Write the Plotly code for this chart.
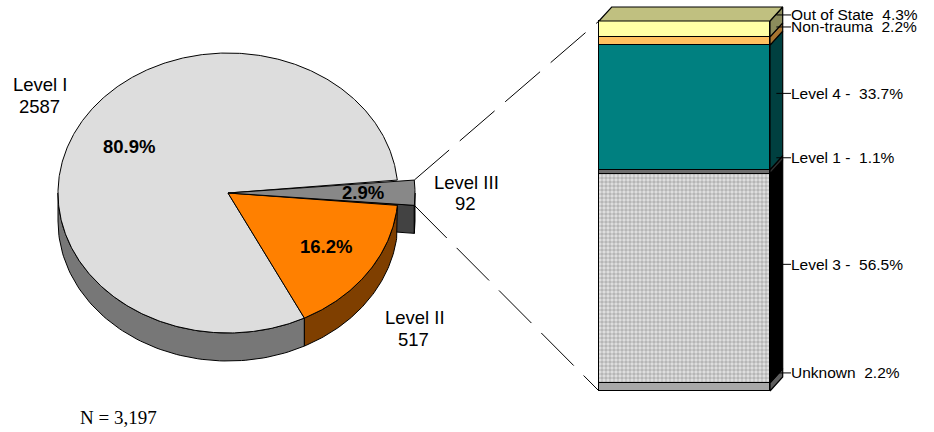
import numpy as np
import plotly.graph_objects as go

# ---- data -------------------------------------------------------------
pie_labels = ["Level I", "Level II", "Level III"]
pie_counts = [2587, 517, 92]
total_n = 3197

# breakdown of the Level III group, bottom to top of the stacked bar
bar_labels = ["Unknown", "Level 3", "Level 1", "Level 4", "Non-trauma", "Out of State"]
bar_pcts = [2.2, 56.5, 1.1, 33.7, 2.2, 4.3]
bar_seps = ["  ", " -  ", " -  ", " -  ", "  ", "  "]

# ---- styling ----------------------------------------------------------
W, H = 934, 432
SANS = "Liberation Sans, Arial, sans-serif"
SERIF = "Liberation Serif, Times New Roman, serif"

pie_top = ["#DDDDDD", "#FF8000", "#888888"]
pie_side = ["#777777", "#7F3F00", "#424242"]
pie_explode = [0, 0, 17]

bar_front = ["#A8A8A8", "#C8C8C8", "#6E6E6E", "#008080", "#FFC060", "#FFFFA6"]
bar_side = ["#5E5E5E", "#000000", "#303030", "#004040", "#A87430", "#8C8C5C"]
bar_topface = "#C0C080"

# pie geometry in page pixels (tilted disc)
CX, CY, RX, RY, DEPTH = 228.0, 193.0, 170.0, 140.0, 28.0
START_DEG = 5.3

# stacked bar axis geometry
BAR_LEFT_PX, BAR_RIGHT_PX = 599.0, 770.0
BAR_BOTTOM_PX, BAR_TOP_PX = 391.0, 21.0
px_per_x = BAR_RIGHT_PX - BAR_LEFT_PX          # one bar width
px_per_pct = (BAR_BOTTOM_PX - BAR_TOP_PX) / 100.0
x2_range = [-0.5 - BAR_LEFT_PX / px_per_x, -0.5 + (W - BAR_LEFT_PX) / px_per_x]
y2_range = [-(H - BAR_BOTTOM_PX) / px_per_pct, BAR_BOTTOM_PX / px_per_pct]
DX = 12.7 / px_per_x       # depth of the 3-D bar, horizontal
DY = 14.0 / px_per_pct     # depth of the 3-D bar, vertical


def bar_x_to_px(x):
    return BAR_LEFT_PX + (x + 0.5) * px_per_x


def bar_y_to_px(v):
    return BAR_BOTTOM_PX - v * px_per_pct


def rim(t_deg, shift=0.0, drop=0.0):
    t = np.radians(t_deg)
    return CX + shift + RX * np.cos(t), CY - RY * np.sin(t) + drop


fig = go.Figure()
edge = dict(color="black", width=1)

# ---- pie -------------------------------------------------------------
total = float(sum(pie_counts))
spans = [360.0 * c / total for c in pie_counts]
bounds = []
a = START_DEG
for s in spans:
    bounds.append((a, a + s))
    a += s


def poly(xs, ys, fill):
    fig.add_trace(go.Scatter(
        x=list(xs) + [xs[0]], y=list(ys) + [ys[0]], mode="lines", fill="toself",
        fillcolor=fill, line=edge, hoverinfo="skip", showlegend=False))


def side_wall(i):
    a0, a1 = bounds[i]
    lo, hi = max(a0, 180.0), min(a1, 360.0)
    if lo >= hi:
        return
    ts = np.linspace(lo, hi, 80)
    tx, ty = rim(ts, pie_explode[i])
    bx, by = rim(ts[::-1], pie_explode[i], DEPTH)
    poly(np.concatenate([tx, bx]), np.concatenate([ty, by]), pie_side[i])


def top_face(i):
    a0, a1 = bounds[i]
    ts = np.linspace(a0, a1, max(8, int((a1 - a0) * 2)))
    ax_, ay_ = rim(ts, pie_explode[i])
    xs = np.concatenate([[CX], ax_])
    ys = np.concatenate([[CY], ay_])
    poly(xs, ys, pie_top[i])


# cut face of the pulled-out slice, seen through the gap
i3 = 2
a0 = bounds[i3][0]
rx, ry = rim(a0, pie_explode[i3])
tipx = CX + pie_explode[i3]
poly([tipx, rx, rx, tipx], [CY, ry, ry + DEPTH, CY + DEPTH], pie_side[i3])
side_wall(2)
side_wall(0)
side_wall(1)
top_face(0)
top_face(1)
top_face(2)

annotations = []
# percentage labels on the slices
for i, c in enumerate(pie_counts):
    mid = np.radians(sum(bounds[i]) / 2)
    lx = CX + pie_explode[i] + 0.68 * RX * np.cos(mid) + 2
    ly = CY - 0.68 * RY * np.sin(mid)
    annotations.append(dict(
        x=lx, y=ly, xref="x", yref="y", text=f"<b>{100 * c / total:.1f}%</b>",
        showarrow=False, font=dict(family=SANS, size=18.5, color="black")))

# category labels outside the pie
outer_pos = [((40, 84.5), (39, 106.5)), ((415, 317.5), (413, 339)), ((466, 182), (465, 203.5))]
for (name_xy, cnt_xy), name, c in zip(outer_pos, pie_labels, pie_counts):
    for (x, y), txt in ((name_xy, name), (cnt_xy, f"{c}")):
        annotations.append(dict(
            x=x, y=y, xref="x", yref="y", text=txt, showarrow=False,
            font=dict(family=SANS, size=18.5, color="black")))

annotations.append(dict(
    x=118, y=417, xref="x", yref="y", text=f"N = {total_n:,}", showarrow=False,
    font=dict(family=SERIF, size=19, color="black")))

# ---- stacked 3-D bar ---------------------------------------------------
for i, (lab, v) in enumerate(zip(bar_labels, bar_pcts)):
    marker = dict(color=bar_front[i], line=dict(color="black", width=1.5))
    if lab == "Level 3":
        marker["pattern"] = dict(shape=".", fgcolor="#8A8A8A", bgcolor="#E2E2E2",
                                 size=4, solidity=0.6)
    fig.add_trace(go.Bar(
        x=[0], y=[v], width=1, name=lab, marker=marker,
        xaxis="x2", yaxis="y2", hoverinfo="skip", showlegend=False))

cum = np.concatenate([[0.0], np.cumsum(bar_pcts)])
for i in range(len(bar_pcts)):
    b, t = cum[i], cum[i + 1]
    fig.add_trace(go.Scatter(
        x=[0.5, 0.5 + DX, 0.5 + DX, 0.5, 0.5], y=[b, b + DY, t + DY, t, b],
        mode="lines", fill="toself", fillcolor=bar_side[i],
        line=dict(color="black", width=1.2), xaxis="x2", yaxis="y2",
        hoverinfo="skip", showlegend=False))
top = cum[-1]
fig.add_trace(go.Scatter(
    x=[-0.5, 0.5, 0.5 + DX, -0.5 + DX, -0.5], y=[top, top, top + DY, top + DY, top],
    mode="lines", fill="toself", fillcolor=bar_topface,
    line=dict(color="black", width=1.2), xaxis="x2", yaxis="y2",
    hoverinfo="skip", showlegend=False))

# leader lines and segment labels
line_end_x = -0.5 + (791.0 - BAR_LEFT_PX) / px_per_x
label_x = -0.5 + (789.0 - BAR_LEFT_PX) / px_per_x
for i, (lab, v) in enumerate(zip(bar_labels, bar_pcts)):
    ly = (cum[i] + cum[i + 1]) / 2 + DY
    fig.add_trace(go.Scatter(
        x=[0.5 + DX * 0.5, line_end_x], y=[ly, ly], mode="lines",
        line=dict(color="black", width=1), xaxis="x2", yaxis="y2",
        hoverinfo="skip", showlegend=False))
    annotations.append(dict(
        x=label_x, y=ly, xref="x2", yref="y2", xanchor="left",
        text=f"{lab}{bar_seps[i]}{v:.1f}%", showarrow=False,
        font=dict(family=SANS, size=15.5, color="black")))

# dashed connectors from the pulled-out slice to the bar
ux, uy = rim(bounds[2][1], pie_explode[2])
lx_, ly_ = rim(bounds[2][0], pie_explode[2])
for (sx, sy), (ex, ey) in (((ux, uy), (bar_x_to_px(-0.5), bar_y_to_px(100.0))),
                           ((lx_, ly_), (bar_x_to_px(-0.5), bar_y_to_px(0.0)))):
    fig.add_trace(go.Scatter(
        x=[sx, ex], y=[sy, ey], mode="lines",
        line=dict(color="black", width=1, dash="46px,14px"),
        hoverinfo="skip", showlegend=False))

fig.update_layout(
    width=W, height=H, margin=dict(l=0, r=0, t=0, b=0),
    paper_bgcolor="white", plot_bgcolor="white",
    barmode="stack", bargap=0, showlegend=False,
    xaxis=dict(range=[0, W], visible=False, fixedrange=True),
    yaxis=dict(range=[H, 0], visible=False, fixedrange=True),
    xaxis2=dict(range=x2_range, overlaying="x", anchor="y2", visible=False, fixedrange=True),
    yaxis2=dict(range=y2_range, overlaying="y", anchor="x2", visible=False, fixedrange=True),
    annotations=annotations,
)

fig.write_html("out.html", config={"displayModeBar": False})
